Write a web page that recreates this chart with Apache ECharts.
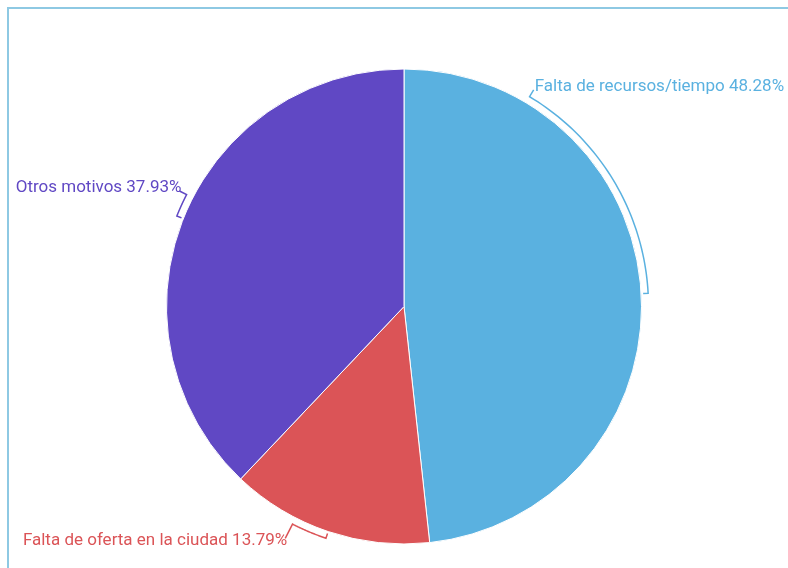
<!DOCTYPE html>
<html><head><meta charset="utf-8">
<script src="https://cdn.jsdelivr.net/npm/echarts@6/dist/echarts.min.js"></script>
<style>html,body{margin:0;padding:0;background:#fff;overflow:hidden}#chart{width:788px;height:568px}</style>
</head><body><div id="chart"></div>
<script>
// ---- data ----
const categories = ['Falta de recursos/tiempo', 'Falta de oferta en la ciudad', 'Otros motivos'];
const values = [14, 4, 11];

// ---- layout / style constants ----
const colors = ['#5AB1E0', '#DB5457', '#6048C4'];
const CX = 404, CY = 306.5, R = 237.5;
const labelAngleOffset = [-56, 8.5, 5.5]; // where each label leaves its bracket, degrees from slice middle
const leaderLen = [8, 16, 8];

const total = values.reduce((a, b) => a + b, 0);
function midAngle(i) {
  let s = 0;
  for (let k = 0; k < i; k++) s += values[k];
  return (s + values[i] / 2) / total * 360;
}
function pt(angDeg, r) {
  const a = angDeg * Math.PI / 180;
  return [CX + r * Math.sin(a), CY - r * Math.cos(a)];
}

const chart = echarts.init(document.getElementById('chart'));
chart.setOption({
  animation: false,
  backgroundColor: '#fff',
  graphic: [{
    type: 'rect', silent: true, z: -1,
    shape: { x: 8, y: 8, width: 900, height: 700 },
    style: { fill: 'none', stroke: '#8EC9E3', lineWidth: 2 }
  }],
  series: [{
    type: 'pie',
    center: [CX, CY],
    radius: R,
    startAngle: 90,
    clockwise: true,
    avoidLabelOverlap: false,
    data: categories.map((c, i) => ({ name: c, value: values[i], itemStyle: { color: colors[i] } })),
    itemStyle: { borderColor: '#fff', borderWidth: 1 },
    label: {
      show: true,
      position: 'outside',
      formatter: '{b} {d}%',
      fontFamily: 'Roboto',
      fontSize: 17,
      color: 'inherit'
    },
    labelLine: { show: true, length: 8, length2: 0, lineStyle: { width: 1.5 } },
    emphasis: { disabled: true },
    labelLayout: function (p) {
      const i = p.dataIndex;
      const mid = midAngle(i);
      const att = mid + labelAngleOffset[i];
      const pts = [pt(mid, R + 2)];
      const n = 48;
      for (let k = 0; k <= n; k++) pts.push(pt(mid + (att - mid) * k / n, R + 7));
      const e = pt(att, R + 7 + leaderLen[i]);
      pts.push(e);
      const right = e[0] >= CX;
      const upper = e[1] < CY;
      return {
        x: e[0] + (right ? 1 : 2),
        y: upper ? e[1] + 5 : e[1] + 2,
        align: right ? 'left' : 'right',
        verticalAlign: upper ? 'bottom' : 'middle',
        labelLinePoints: pts
      };
    }
  }]
});
</script>
</body></html>
